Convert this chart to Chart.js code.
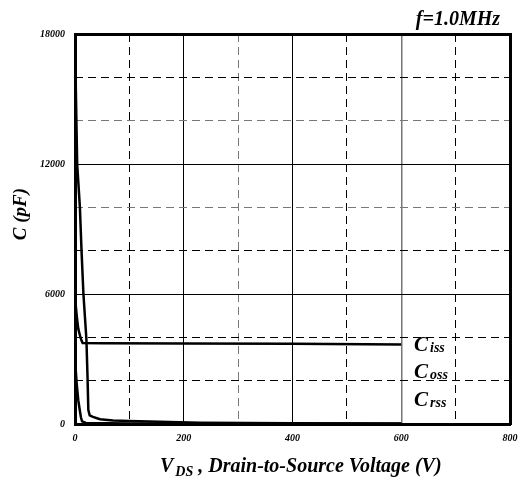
<!DOCTYPE html>
<html>
<head>
<meta charset="utf-8">
<script src="https://cdn.jsdelivr.net/npm/chart.js@4"></script>
<style>
  html, body { margin: 0; padding: 0; background: #fff; }
  #wrap { width: 518px; height: 482px; }
</style>
</head>
<body>
<div id="wrap"><canvas id="chart" width="518" height="482"></canvas></div>
<script>
// capacitance vs drain-source voltage
const vIss = [0, 2, 4, 6, 8, 10, 12, 14, 50, 200, 400, 600];
const cIss = [5900, 5300, 4800, 4400, 4200, 4000, 3850, 3740, 3730, 3720, 3700, 3670];

const vOss = [1, 4, 9, 12, 15.5, 21, 23, 24.5, 27, 33, 46, 70, 100, 229, 400, 600];
const cOss = [16200, 12000, 10000, 8000, 6000, 3900, 2200, 650, 400, 330, 217, 160, 138, 60, 35, 25];

const vRss = [0, 3, 6, 9, 11, 13, 20, 100, 600];
const cRss = [3000, 1900, 1100, 600, 300, 120, 50, 20, 10];

const xTicks = [0, 200, 400, 600, 800];
const xMinor = [100, 300, 500, 700];
const yTicks = [0, 6000, 12000, 18000];
const yMinor = [2000, 4000, 8000, 10000, 14000, 16000];

const seriesNames = ["iss", "oss", "rss"];

const toPoints = (xs, ys) => xs.map((v, i) => ({ x: v, y: ys[i] }));
const serif = '"Liberation Serif", "Times New Roman", serif';
const font = (s) => `italic bold ${s}px ${serif}`;

const textPlugin = {
  id: "textPlugin",
  afterDraw(chart) {
    const ctx = chart.ctx;
    ctx.save();
    ctx.fillStyle = "#000";
    ctx.textBaseline = "alphabetic";

    ctx.font = font(20);
    ctx.textAlign = "right";
    ctx.fillText("f=1.0MHz", 500, 25);

    // x axis title with subscript
    ctx.textAlign = "left";
    let x = 160;
    ctx.font = font(20);
    ctx.fillText("V", x, 472);
    x += ctx.measureText("V").width + 2;
    ctx.font = font(14);
    ctx.fillText("DS", x, 476);
    x += ctx.measureText("DS").width;
    ctx.font = font(20);
    ctx.fillText(" , Drain-to-Source Voltage (V)", x, 472);

    // series labels
    const baselines = [351, 378, 406];
    seriesNames.forEach((s, i) => {
      ctx.font = font(21);
      ctx.fillText("C", 414, baselines[i]);
      const w = ctx.measureText("C").width;
      ctx.font = font(14);
      ctx.fillText(s, 414 + w + 2, baselines[i] + 1);
    });

    // y axis title
    ctx.translate(21, 214);
    ctx.rotate(-Math.PI / 2);
    ctx.textAlign = "center";
    ctx.textBaseline = "middle";
    ctx.font = font(19);
    ctx.fillText("C (pF)", 0, 0);
    ctx.restore();
  }
};

const lineStyle = {
  borderColor: "#000",
  borderWidth: 2.5,
  pointRadius: 0,
  fill: false,
  tension: 0,
  showLine: true
};

const tickFont = { family: serif, size: 10, style: "italic", weight: "bold" };
const plain = (v) => String(v);

new Chart(document.getElementById("chart"), {
  type: "scatter",
  data: {
    datasets: [
      { label: "Ciss", data: toPoints(vIss, cIss), ...lineStyle },
      { label: "Coss", data: toPoints(vOss, cOss), ...lineStyle },
      { label: "Crss", data: toPoints(vRss, cRss), ...lineStyle }
    ]
  },
  options: {
    responsive: false,
    animation: false,
    layout: { padding: 0 },
    plugins: { legend: { display: false }, tooltip: { enabled: false } },
    scales: {
      x: {
        type: "linear",
        position: "bottom",
        min: 0,
        max: 800,
        afterBuildTicks: (s) => { s.ticks = xTicks.map((v) => ({ value: v })); },
        afterFit: (s) => { s.height = 58; s.paddingLeft = 0; s.paddingRight = 0; },
        ticks: { color: "#000", font: tickFont, padding: 8, maxRotation: 0, callback: plain },
        grid: {
          drawTicks: false,
          color: (c) => (c.tick && c.tick.value === 600 ? "#777" : "#000"),
          lineWidth: (c) => (c.tick && c.tick.value === 600 ? 1.5 : 1)
        },
        border: { display: true, color: "#000", width: 3 }
      },
      x2: {
        type: "linear",
        position: "bottom",
        min: 0,
        max: 800,
        afterBuildTicks: (s) => { s.ticks = xMinor.map((v) => ({ value: v })); },
        afterFit: (s) => { s.height = 0; s.paddingLeft = 0; s.paddingRight = 0; },
        ticks: { display: false },
        grid: {
          drawTicks: false,
          color: (c) => (c.tick && c.tick.value === 300 ? "#777" : "#000"),
          lineWidth: 1
        },
        border: { display: false, dash: [8, 5] }
      },
      xTop: {
        type: "linear",
        position: "top",
        min: 0,
        max: 800,
        afterFit: (s) => { s.height = 34; s.paddingLeft = 0; s.paddingRight = 0; },
        ticks: { display: false },
        grid: { display: false, drawTicks: false },
        border: { display: true, color: "#000", width: 3 }
      },
      y: {
        type: "linear",
        position: "left",
        min: 0,
        max: 18000,
        afterBuildTicks: (s) => { s.ticks = yTicks.map((v) => ({ value: v })); },
        afterFit: (s) => { s.width = 75; s.paddingTop = 0; s.paddingBottom = 0; },
        ticks: { color: "#000", font: tickFont, padding: 10, callback: plain },
        grid: { drawTicks: false, color: "#000", lineWidth: 1 },
        border: { display: true, color: "#000", width: 3 }
      },
      y2: {
        type: "linear",
        position: "left",
        min: 0,
        max: 18000,
        afterBuildTicks: (s) => { s.ticks = yMinor.map((v) => ({ value: v })); },
        afterFit: (s) => { s.width = 0; },
        ticks: { display: false },
        grid: {
          drawTicks: false,
          color: (c) => (c.tick && (c.tick.value === 10000 || c.tick.value === 14000) ? "#777" : "#000"),
          lineWidth: 1
        },
        border: { display: false, dash: [8, 5] }
      },
      yRight: {
        type: "linear",
        position: "right",
        min: 0,
        max: 18000,
        afterFit: (s) => { s.width = 8; },
        ticks: { display: false },
        grid: { display: false, drawTicks: false },
        border: { display: true, color: "#000", width: 3 }
      }
    }
  },
  plugins: [textPlugin]
});
</script>
</body>
</html>
